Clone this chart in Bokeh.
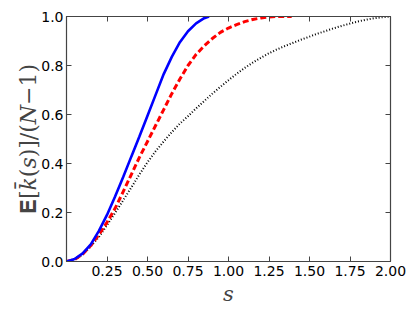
from bokeh.plotting import figure
from bokeh.models import LinearAxis, FixedTicker, NumeralTickFormatter, Range1d, CustomLabelingPolicy
from bokeh.embed import file_html
from bokeh.resources import INLINE

# --- data ---
s_blue = [0.0, 0.05, 0.1, 0.15, 0.2, 0.25, 0.3, 0.35, 0.4, 0.45, 0.5, 0.55, 0.6, 0.65, 0.7, 0.75, 0.8, 0.85, 0.88]
k_blue = [0.0, 0.01, 0.033, 0.07, 0.125, 0.19, 0.265, 0.345, 0.428, 0.51, 0.595, 0.68, 0.765, 0.835, 0.895, 0.94, 0.972, 0.993, 1.0]

s_red = [0.0, 0.05, 0.1, 0.15, 0.2, 0.25, 0.3, 0.35, 0.4, 0.45, 0.5, 0.55, 0.6, 0.65, 0.7, 0.75, 0.8, 0.85, 0.9, 0.95,
         1.0, 1.05, 1.1, 1.15, 1.2, 1.25, 1.3, 1.39]
k_red = [0.0, 0.008, 0.03, 0.065, 0.11, 0.16, 0.217, 0.285, 0.355, 0.425, 0.49, 0.555, 0.62, 0.685, 0.745, 0.8, 0.845, 0.88, 0.91, 0.935,
         0.953, 0.967, 0.979, 0.988, 0.994, 0.998, 1.0, 1.0]

s_black = [0.0, 0.05, 0.1, 0.15, 0.2, 0.25, 0.3, 0.35, 0.4, 0.45, 0.5, 0.55, 0.6, 0.65, 0.7, 0.75, 0.8, 0.85, 0.9, 0.95,
           1.0, 1.05, 1.1, 1.15, 1.2, 1.25, 1.3, 1.35, 1.4, 1.45, 1.5, 1.55, 1.6, 1.65, 1.7, 1.75, 1.8, 1.85, 1.9, 1.95, 2.0]
k_black = [0.0, 0.007, 0.028, 0.062, 0.1, 0.148, 0.198, 0.25, 0.302, 0.355, 0.405, 0.45, 0.49, 0.528, 0.563, 0.593, 0.625, 0.655, 0.685, 0.713,
           0.74, 0.766, 0.79, 0.812, 0.832, 0.85, 0.866, 0.88, 0.893, 0.906, 0.918, 0.93, 0.941, 0.952, 0.962, 0.971, 0.98, 0.987, 0.993, 0.997, 1.0]

x_ticks = [0.25, 0.5, 0.75, 1.0, 1.25, 1.5, 1.75, 2.0]
y_ticks = [0.0, 0.2, 0.4, 0.6, 0.8, 1.0]

p = figure(frame_width=324, frame_height=245, output_backend="svg", toolbar_location=None,
           x_range=Range1d(0, 2), y_range=Range1d(0, 1),
           min_border_left=66, min_border_top=16, min_border_right=22, min_border_bottom=46)
p.grid.visible = False
p.outline_line_color = "#444444"
p.outline_line_width = 1.2

p.line(s_black, k_black, line_color="black", line_width=2, line_dash="1 2")
p.line(s_red, k_red, line_color="#ff0000", line_width=3, line_dash="6 3")
p.line(s_blue, k_blue, line_color="#0000ff", line_width=2.6)

no_labels = CustomLabelingPolicy(code="""
try { for (const i of Array.from(indices)) { indices.unset(i) } } catch (e) {}
return indices
""")

def style(ax, ticks, fmt, show_labels):
    ax.ticker = FixedTicker(ticks=ticks)
    ax.formatter = NumeralTickFormatter(format=fmt)
    ax.major_tick_in = 5
    ax.major_tick_out = 0
    ax.minor_tick_line_color = None
    ax.axis_line_color = "#444444"
    ax.major_tick_line_color = "#444444"
    ax.major_label_text_font = "DejaVu Sans"
    ax.major_label_text_color = "black"
    ax.major_label_text_font_size = "14px"
    if not show_labels:
        ax.major_label_policy = no_labels
        ax.major_label_text_font_size = "1px"
        ax.major_label_standoff = 0

xa = p.xaxis[0]
style(xa, x_ticks, "0.00", True)
xa.major_label_standoff = 4
xa.axis_label = "s"
xa.axis_label_text_font = "DejaVu Serif"
xa.axis_label_text_font_style = "italic"
xa.axis_label_text_font_size = "21px"
xa.axis_label_standoff = 3

ya = p.yaxis[0]
style(ya, y_ticks, "0.0", True)
ya.major_label_standoff = 3
ya.axis_label = "\U0001D404[\U0001D458\u0304(\U0001D460)]/(\U0001D441\u22121)"
ya.axis_label_text_font = "DejaVu Serif"
ya.axis_label_text_font_style = "normal"
ya.axis_label_text_font_size = "22px"
ya.axis_label_standoff = -3

top = LinearAxis()
style(top, x_ticks, "0.00", False)
p.add_layout(top, "above")
right = LinearAxis()
style(right, y_ticks, "0.0", False)
p.add_layout(right, "right")

open("out.html", "w").write(file_html(p, INLINE))
